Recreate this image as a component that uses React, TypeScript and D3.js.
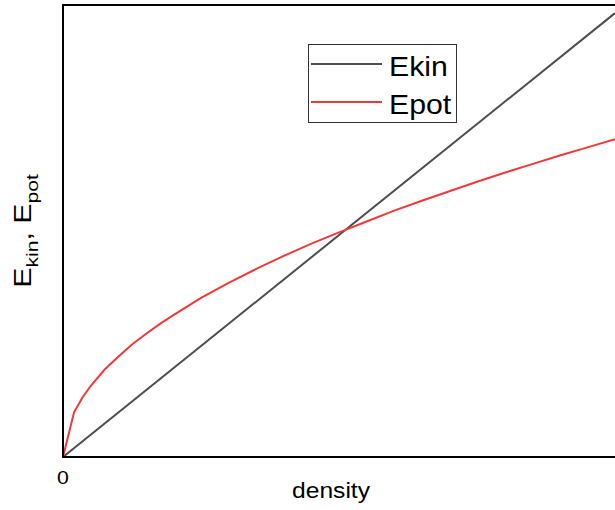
import React from "react";
import * as d3 from "d3";

// -- DATA --
const densityEkin = [0, 1];
const ekinValues = [0, 0.982];
const densityEpot = [0, 0.02, 0.035, 0.05, 0.075, 0.1, 0.125, 0.15, 0.175, 0.2, 0.25, 0.3, 0.35, 0.4, 0.45, 0.5, 0.55, 0.6, 0.65, 0.7, 0.75, 0.8, 0.85, 0.9, 0.95, 1.0];
const epotValues = [0, 0.099, 0.131, 0.157, 0.193, 0.222, 0.249, 0.272, 0.294, 0.314, 0.352, 0.385, 0.416, 0.445, 0.472, 0.497, 0.521, 0.545, 0.567, 0.588, 0.609, 0.629, 0.648, 0.667, 0.685, 0.703];
const seriesNames = ["Ekin", "Epot"];
const xTicks = [0];

const App = () => {
  const svgRef = React.useRef<SVGSVGElement>(null);
  const width = 615;
  const height = 510;
  const margin = { top: 5, right: 0, bottom: 53, left: 63 };

  React.useEffect(() => {
    const svg = d3.select(svgRef.current);
    svg.selectAll("*").remove();

    const x = d3
      .scaleLinear()
      .domain([0, 1])
      .range([margin.left, width - margin.right]);
    const y = d3
      .scaleLinear()
      .domain([0, 1])
      .range([height - margin.bottom, margin.top]);

    const colors = ["#4d4d4d", "#f03a3a"];
    const font = "'Liberation Sans', Arial, sans-serif";
    const stretch = 1.12; // text in the picture is a bit wide

    svg
      .append("defs")
      .append("clipPath")
      .attr("id", "plot-clip")
      .append("rect")
      .attr("x", margin.left)
      .attr("y", margin.top)
      .attr("width", width - margin.left)
      .attr("height", height - margin.bottom - margin.top);

    const line = d3
      .line<[number, number]>()
      .x((d) => x(d[0]))
      .y((d) => y(d[1]));

    const plot = svg.append("g").attr("clip-path", "url(#plot-clip)");
    plot
      .append("path")
      .datum(densityEkin.map((d, i) => [d, ekinValues[i]] as [number, number]))
      .attr("d", line)
      .attr("fill", "none")
      .attr("stroke", colors[0])
      .attr("stroke-width", 2);
    plot
      .append("path")
      .datum(densityEpot.map((d, i) => [d, epotValues[i]] as [number, number]))
      .attr("d", line)
      .attr("fill", "none")
      .attr("stroke", colors[1])
      .attr("stroke-width", 2);

    // spines (left, top, bottom; the right one is off the picture)
    svg
      .append("path")
      .attr("d", `M${width},${margin.top}H${margin.left}V${height - margin.bottom}H${width}`)
      .attr("stroke", "#000")
      .attr("stroke-width", 2)
      .attr("fill", "none");

    // ticks
    svg
      .selectAll("tickLabels")
      .data(xTicks)
      .enter()
      .append("text")
      .attr("transform", (d) => `translate(${x(d)}, 484) scale(${stretch}, 1)`)
      .attr("text-anchor", "middle")
      .style("font-family", font)
      .style("font-size", "19px")
      .text((d) => d);

    // axis titles
    svg
      .append("text")
      .attr("transform", `translate(331, 498) scale(${stretch}, 1)`)
      .attr("text-anchor", "middle")
      .style("font-family", font)
      .style("font-size", "22px")
      .text("density");

    const yTitle = svg
      .append("text")
      .attr("transform", `translate(31, ${(margin.top + height - margin.bottom) / 2}) rotate(-90) scale(1.32, 1)`)
      .attr("text-anchor", "middle")
      .style("font-family", font)
      .style("font-size", "23px");
    yTitle.append("tspan").text("E");
    yTitle.append("tspan").attr("dy", 7).style("font-size", "16px").text("kin");
    yTitle.append("tspan").attr("dy", -7).text(", E");
    yTitle.append("tspan").attr("dy", 7).style("font-size", "16px").text("pot");

    // legend
    const legend = svg.append("g");
    legend
      .append("rect")
      .attr("x", 308.5)
      .attr("y", 44.5)
      .attr("width", 148)
      .attr("height", 78)
      .attr("fill", "#fff")
      .attr("stroke", "#333")
      .attr("stroke-width", 1);
    const items = legend
      .selectAll("legendItems")
      .data(seriesNames)
      .enter()
      .append("g")
      .attr("transform", (d, i) => `translate(0, ${64 + i * 38})`);
    items
      .append("line")
      .attr("x1", 311)
      .attr("x2", 382)
      .attr("stroke", (d, i) => colors[i])
      .attr("stroke-width", 2);
    items
      .append("text")
      .attr("transform", `translate(389, 12) scale(1.08, 1)`)
      .style("font-family", font)
      .style("font-size", "28px")
      .text((d) => d);
  }, []);

  return <svg ref={svgRef} width={width} height={height} style={{ position: "absolute", left: 0, top: 0 }} />;
};

export default App;
